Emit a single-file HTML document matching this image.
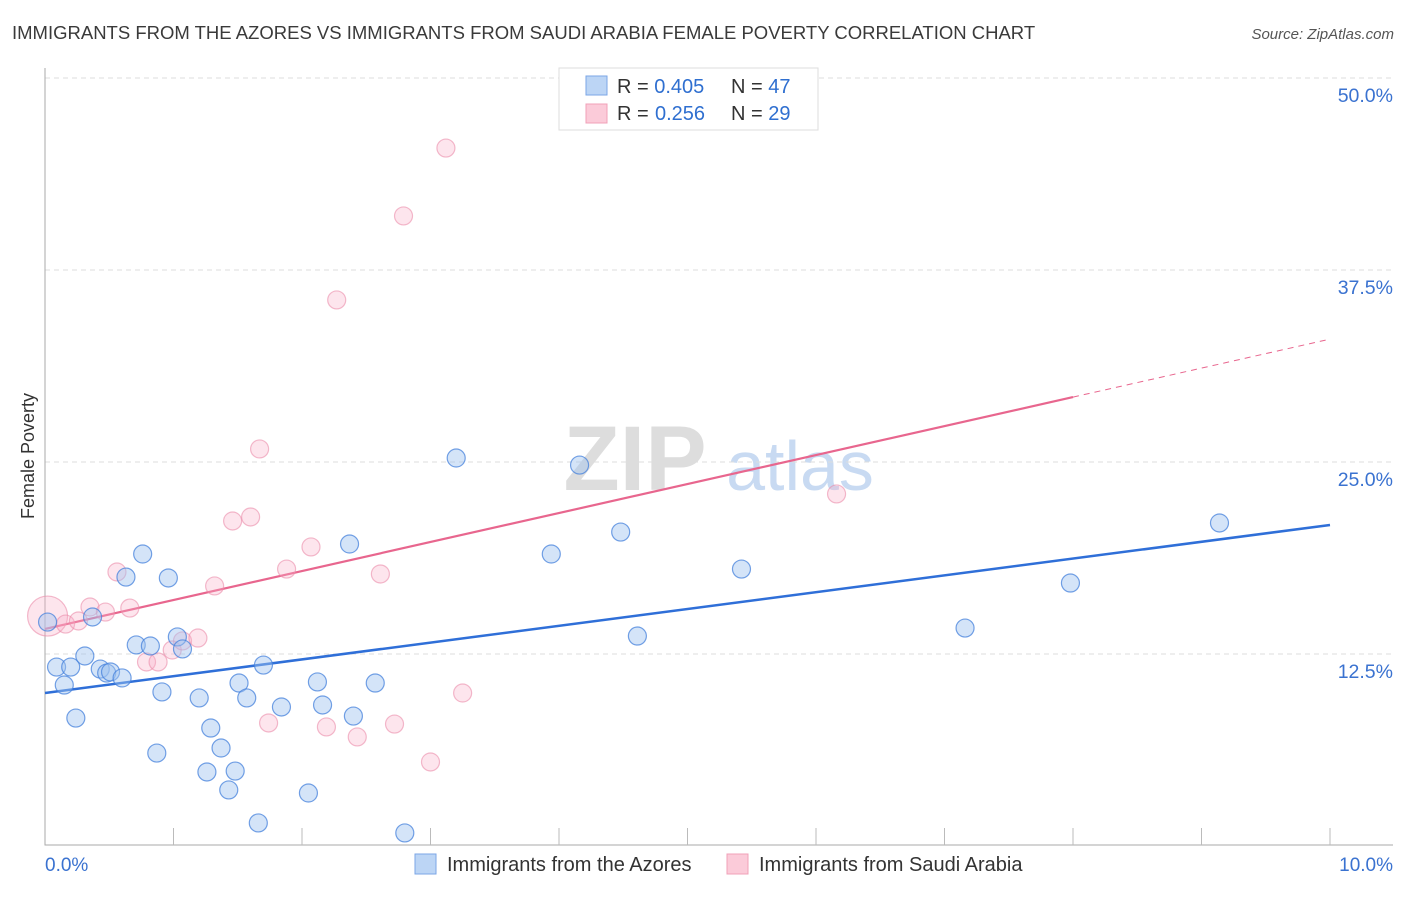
<!DOCTYPE html>
<html><head><meta charset="utf-8"><style>
body{margin:0;background:#fff;font-family:"Liberation Sans",sans-serif}
svg text{font-family:"Liberation Sans",sans-serif}
</style></head><body>
<svg id="c" width="1406" height="892">
<text x="12" y="39" font-size="18.5" fill="#3a3a3a">IMMIGRANTS FROM THE AZORES VS IMMIGRANTS FROM SAUDI ARABIA FEMALE POVERTY CORRELATION CHART</text>
<text x="1394" y="39" font-size="15" fill="#555" text-anchor="end" font-style="italic">Source: ZipAtlas.com</text>
<text x="34" y="456" font-size="18" fill="#333" text-anchor="middle" transform="rotate(-90 34 456)">Female Poverty</text>
<g><text x="635" y="490" font-size="92" fill="#ddd" font-family="Liberation Serif" text-anchor="middle" font-weight="bold">ZIP</text><text x="800" y="490" font-size="70" fill="#c8daf2" text-anchor="middle">atlas</text></g>
<g id="grid"></g><g id="axes"></g><g id="lines"></g><g id="pts"></g>
<g>
<rect x="559" y="68" width="259" height="62" fill="#fff" stroke="#ddd"/>
<rect x="586" y="76" width="21" height="19" fill="#bcd5f5" stroke="#7ba6e6"/>
<rect x="586" y="104" width="21" height="19" fill="#fbcbd9" stroke="#f0a0b8"/>
<text x="617" y="93" font-size="20" fill="#333">R = <tspan fill="#2f6fd0">0.405</tspan><tspan x="731">N = </tspan><tspan fill="#2f6fd0">47</tspan></text>
<text x="617" y="120" font-size="20" fill="#333">R = <tspan x="655" fill="#2f6fd0">0.256</tspan><tspan x="731">N = </tspan><tspan fill="#2f6fd0">29</tspan></text>
</g>
<g>
<rect x="415" y="854" width="21" height="20" fill="#bcd5f5" stroke="#7ba6e6"/>
<text x="447" y="871" font-size="20" fill="#333">Immigrants from the Azores</text>
<rect x="727" y="854" width="21" height="20" fill="#fbcbd9" stroke="#f0a0b8"/>
<text x="759" y="871" font-size="20" fill="#333">Immigrants from Saudi Arabia</text>
</g>
</svg>
<script>
const yTicks=[12.5,25,37.5,50];
const yTickLabels=["12.5%","25.0%","37.5%","50.0%"];
const xTickLabels=["0.0%","10.0%"];
const blueX=[0.02,0.09,0.20,0.15,0.24,0.31,0.37,0.43,0.48,0.51,0.60,0.63,0.76,0.71,0.82,0.91,0.87,0.96,1.03,1.07,1.20,1.26,1.29,1.37,1.43,1.48,1.51,1.57,1.66,1.70,1.84,2.05,2.12,2.16,2.37,2.40,2.57,2.80,3.20,3.94,4.16,4.48,4.61,5.42,7.16,7.98,9.14];
const blueY=[14.58,11.65,11.65,10.48,8.33,12.37,14.91,11.52,11.26,11.33,10.94,17.51,19.01,13.09,13.02,10.03,6.05,17.45,13.61,12.83,9.64,4.82,7.68,6.38,3.65,4.88,10.61,9.64,1.50,11.78,9.05,3.45,10.68,9.18,19.66,8.46,10.61,0.85,25.26,19.01,24.80,20.44,13.67,18.03,14.19,17.12,21.03];
const pinkX=[0.02,0.16,0.26,0.35,0.47,0.56,0.66,0.79,0.88,0.99,1.07,1.19,1.32,1.46,1.60,1.67,1.74,1.88,2.07,2.19,2.27,2.43,2.61,2.72,2.79,3.00,3.12,3.25,6.16];
const pinkY=[14.97,14.45,14.65,15.56,15.23,17.84,15.49,11.98,11.98,12.76,13.35,13.54,16.93,21.16,21.42,25.85,8.01,18.03,19.47,7.75,35.55,7.10,17.71,7.94,41.02,5.47,45.44,9.96,22.92];
const pinkSize=[20,9,9,9,9,9,9,9,9,9,9,9,9,9,9,9,9,9,9,9,9,9,9,9,9,9,9,9,9];
const blueTrend=[9.96,20.9];
const pinkTrend=[14.13,33.0];
const pinkSolidEnd=8.0;
const NS="http://www.w3.org/2000/svg";
const X=v=>45+v*128.5, Y=v=>846-v*15.36;
function mk(p,t,a){const e=document.createElementNS(NS,t);for(const k in a)e.setAttribute(k,a[k]);document.getElementById(p).appendChild(e);return e;}
yTicks.forEach((t,i)=>{
 const g=mk('grid','line',{x1:45,x2:1393,y1:Y(t),y2:Y(t),stroke:'#ddd','stroke-dasharray':'5,4'});
 
 
 const l=mk('axes','text',{x:1393,y:Y(t)+24,'font-size':19.5,fill:'#3a72d0','text-anchor':'end'});l.textContent=yTickLabels[i];
 
 
});
const ax=mk('axes','path',{d:'M45,68V845H1393',stroke:'#aaa',fill:'none'});


for(let i=1;i<=10;i++){const t=mk('axes','line',{x1:X(i),x2:X(i),y1:828,y2:845,stroke:'#bbb'});
 
 }
[[0,'start',45],[10,'end',1393]].forEach((d,i)=>{const t=mk('axes','text',{x:d[2],y:871,'font-size':19,fill:'#3a72d0','text-anchor':d[1]});t.textContent=xTickLabels[i];
 
 });
const lerp=(a,x)=>a[0]+(a[1]-a[0])*x/10;
let b=mk('lines','line',{x1:X(0),y1:Y(lerp(blueTrend,0)),x2:X(10),y2:Y(lerp(blueTrend,10)),stroke:'#2f6fd8','stroke-width':2.5});


let p=mk('lines','line',{x1:X(0),y1:Y(lerp(pinkTrend,0)),x2:X(pinkSolidEnd),y2:Y(lerp(pinkTrend,pinkSolidEnd)),stroke:'#e8668e','stroke-width':2.2});


let pd=mk('lines','line',{x1:X(pinkSolidEnd),y1:Y(lerp(pinkTrend,pinkSolidEnd)),x2:X(10),y2:Y(lerp(pinkTrend,10)),stroke:'#e8668e','stroke-width':1,'stroke-dasharray':'6,5'});


pinkX.forEach((x,i)=>{const c=mk('pts','circle',{cx:X(x),cy:Y(pinkY[i]),r:pinkSize[i],fill:'rgba(248,175,198,0.32)',stroke:'rgba(235,140,170,0.6)','stroke-width':1.2});
 
 });
blueX.forEach((x,i)=>{const c=mk('pts','circle',{cx:X(x),cy:Y(blueY[i]),r:9,fill:'rgba(160,195,240,0.45)',stroke:'rgba(70,130,220,0.75)','stroke-width':1.2});
 
 });
</script>
</body></html>
